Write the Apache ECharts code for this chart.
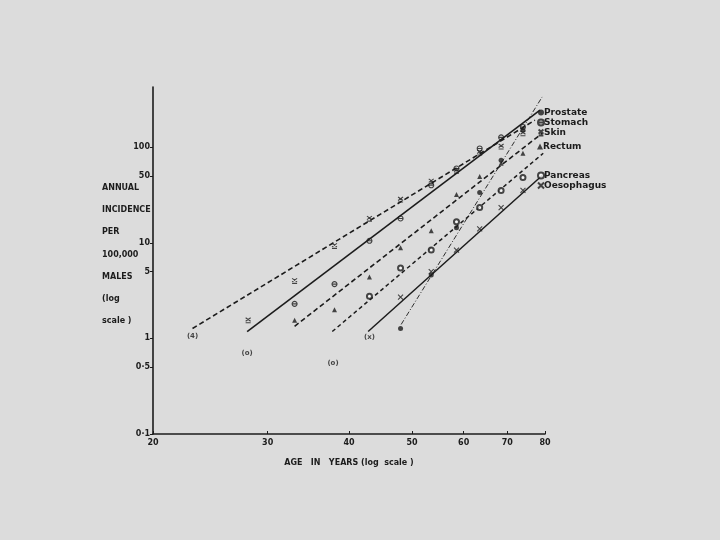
<!DOCTYPE html>
<html><head><meta charset="utf-8">
<script src="https://cdn.jsdelivr.net/npm/echarts@6/dist/echarts.min.js"></script>
<style>html,body{margin:0;padding:0;background:#dcdcdc;} #c{width:720px;height:540px;}</style>
</head><body><div id="c"></div>
<script>
// ---- data ----
const ageTicks = [20, 30, 40, 50, 60, 70, 80];
const incidenceTicks = [0.1, 0.5, 1, 5, 10, 50, 100];
const ages = [28, 33, 38, 43, 48, 53.5, 58.5, 63.5, 68.5, 74];
const prostate   = [null, null, null, null, 1.27, 4.6, 14.4, 33.6, 73, 151];
const stomach    = [null, 2.3, 3.7, 10.5, 18, 40, 60, 97, 127, 163];
const skin       = [1.55, 4.0, 9.3, 17.9, 28.4, 44, 57, 88, 102, 140];
const rectum     = [null, 1.55, 2.0, 4.4, 8.9, 13.4, 32, 49.5, 68, 86.5];
const pancreas   = [null, null, null, 2.77, 5.46, 8.4, 16.6, 23.4, 35.3, 48.3];
const oesophagus = [null, null, null, null, 2.7, 5.0, 8.4, 14.0, 23.4, 35.3];
// fitted straight lines (age, incidence) at both ends
const prostateFit   = [[48.1, 1.40], [79.2, 336]];
const stomachFit    = [[27.9, 1.18], [78.6, 245]];
const skinFit       = [[23.0, 1.27], [77.2, 192]];
const rectumFit     = [[33.0, 1.34], [79.2, 140]];
const pancreasFit   = [[37.7, 1.18], [79.5, 86.5]];
const oesophagusFit = [[42.8, 1.18], [79.2, 50.7]];
// bracketed points (few cases)
const bracketAges   = [23.0, 27.9, 37.8, 43.0];
const bracketValues = [1.05, 0.70, 0.55, 1.02];
const bracketTexts  = ['(4)', '(o)', '(o)', '(x)'];
const yTitleLines = ['ANNUAL', 'INCIDENCE', 'PER', '100,000', 'MALES', '(log', 'scale )'];

// ---- chart ----
const INK = '#1c1c1c';
const FONT = 'DejaVu Sans';
function pts(vals) {
  const out = [];
  ages.forEach((a, i) => { if (vals[i] != null) out.push([a, vals[i]]); });
  return out;
}
const sites = [
  {name: 'Prostate', vals: prostate, fit: prostateFit, symbol: 'circle', size: 5, filled: true,
   line: {type: [5, 2, 1, 2], width: 0.9}},
  {name: 'Stomach', vals: stomach, fit: stomachFit,
   symbol: 'path://M5,0A5,5,0,1,1,5,10A5,5,0,1,1,5,0ZM0,5L10,5', size: 5, filled: false,
   line: {type: 'solid', width: 1.6}},
  {name: 'Skin', vals: skin, fit: skinFit,
   symbol: 'path://M0,0L8,7M8,0L0,7M0,10L8,10', size: 5, filled: false,
   line: {type: [5, 3], width: 1.6}},
  {name: 'Rectum', vals: rectum, fit: rectumFit, symbol: 'triangle', size: 5, filled: true,
   line: {type: [5, 3], width: 1.6}},
  {name: 'Pancreas', vals: pancreas, fit: pancreasFit, symbol: 'emptyCircle', size: 5, filled: false,
   line: {type: [4, 3], width: 1.5}},
  {name: 'Oesophagus', vals: oesophagus, fit: oesophagusFit,
   symbol: 'path://M0,0L8,8M8,0L0,8', size: 5, filled: false,
   line: {type: 'solid', width: 1.5}}
];
const series = [];
sites.forEach(s => {
  series.push({
    name: s.name + ' line', type: 'line', data: s.fit, showSymbol: false, symbol: 'none',
    lineStyle: {color: INK, width: s.line.width, type: s.line.type}, silent: true, z: 2
  });
  series.push({
    name: s.name, type: 'scatter', data: pts(s.vals), symbol: s.symbol, symbolSize: s.size,
    itemStyle: s.filled ? {color: INK} :
      (s.symbol === 'emptyCircle' ? {color: INK, borderColor: INK, borderWidth: 1}
                                  : {color: 'rgba(0,0,0,0)', borderColor: INK, borderWidth: 1.1}),
    z: 3
  });
});
series.push({
  name: 'bracketed', type: 'scatter', symbol: 'circle', symbolSize: 1,
  itemStyle: {color: 'rgba(0,0,0,0)'},
  data: bracketAges.map((a, i) => ({value: [a, bracketValues[i]], name: bracketTexts[i]})),
  label: {show: true, position: 'inside', formatter: p => p.name, color: INK,
          fontFamily: FONT, fontSize: 7, fontWeight: 'bold'},
  z: 4
});

const legendBase = {
  orient: 'vertical', left: 532, itemWidth: 6, itemHeight: 6, itemGap: 1,
  selectedMode: false,
  textStyle: {color: INK, fontFamily: FONT, fontSize: 9, fontWeight: 'bold',
              padding: [0, 0, 0, -5], lineHeight: 9}
};

const option = {
  backgroundColor: '#dcdcdc',
  animation: false,
  grid: {left: 153, right: 175, top: 87, bottom: 106},
  xAxis: {
    type: 'log', logBase: 10, min: 20, max: 80,
    name: 'AGE   IN   YEARS (log  scale )', nameLocation: 'middle', nameGap: 25,
    nameTextStyle: {color: INK, fontFamily: FONT, fontSize: 8, fontWeight: 'bold'},
    axisLine: {lineStyle: {color: INK, width: 1.6}},
    axisTick: {show: true, inside: true, length: 3, customValues: ageTicks, lineStyle: {color: INK}},
    axisLabel: {customValues: ageTicks, color: INK, fontFamily: FONT, fontSize: 8, fontWeight: 'bold', margin: 5},
    splitLine: {show: false}, minorTick: {show: false}
  },
  yAxis: {
    type: 'log', logBase: 10, min: 0.1, max: 427,
    axisLine: {show: true, lineStyle: {color: INK, width: 1.6}},
    axisTick: {show: true, length: 3, customValues: incidenceTicks, lineStyle: {color: INK}},
    axisLabel: {customValues: incidenceTicks, color: INK, fontFamily: FONT, fontSize: 8, fontWeight: 'bold', margin: 3,
                formatter: v => String(v).replace('.', '·')},
    splitLine: {show: false}, minorTick: {show: false}
  },
  legend: [
    Object.assign({}, legendBase, {top: 103, data: ['Prostate', 'Stomach', 'Skin']}),
    Object.assign({}, legendBase, {top: 137, data: ['Rectum']}),
    Object.assign({}, legendBase, {top: 166, data: ['Pancreas', 'Oesophagus']})
  ],
  graphic: yTitleLines.map((t, i) => ({
    type: 'text', left: 102, top: 184 + i * 22.2,
    style: {text: t, fill: INK, font: 'bold 8px "DejaVu Sans"'}
  })),
  series: series
};
const chart = echarts.init(document.getElementById('c'), null, {renderer: 'canvas'});
chart.setOption(option);
</script></body></html>
